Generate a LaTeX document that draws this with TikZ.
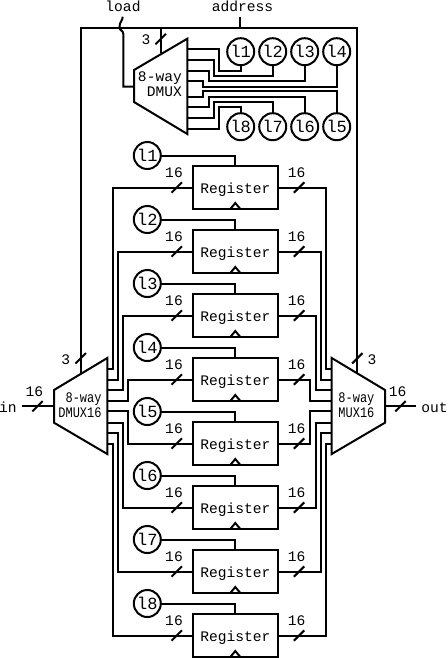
\documentclass[tikz,border=0pt]{standalone}
\usepackage{fontspec}
\setmainfont{Liberation Mono}
\usetikzlibrary{
    calc,
    positioning
}
\tikzset{
    wire/.style={line width=2pt, line join=miter},
    register/.style={draw, line width=2pt, minimum width=85pt, minimum height=43pt, inner sep=0pt, outer sep=0pt},
    regtext/.style={inner sep=0pt, text height=10pt, text depth=3pt, yshift=-2.3pt},
    loadbit/.style={draw, circle, line width=2pt, minimum size=27pt, inner sep=0pt, outer sep=0pt, fill=white, font=\fontsize{17pt}{18pt}\selectfont, text height=12pt, text depth=0pt},
    buslabel/.style={inner sep=0pt, text height=10pt, text depth=0pt},
    squeezed/.style={inner sep=0pt, align=#1, xscale=.82, transform shape, text height=10pt, text depth=0pt}
}
\newcommand{\busmark}[1]{\draw[wire] ([shift={(-5.2,5.2)}]#1) -- ([shift={(5.2,-5.2)}]#1);}
\newcommand{\clockmark}[1]{\draw[wire] ([xshift=-5pt]#1) -- ([yshift=6pt]#1) -- ([xshift=5pt]#1);}
\begin{document}
\begin{tikzpicture}[x=1pt, y=-1pt, font=\fontsize{14.6pt}{15pt}\selectfont]
    \useasboundingbox (0, 0) rectangle (447, 658);

    % top 8-way dmux
    \draw[wire] (134, 70) -- (187.3, 38.7) -- (187.3, 134) -- (134, 102) -- cycle;
    \node[inner sep=0pt, align=right, anchor=east, text height=10pt, text depth=0pt] (dmuxtext) at (182, 91.5) {8-way\\[0pt]DMUX};
    \coordinate (dmuxaddr) at (160.7, 53.3);
    \coordinate (dmuxload) at (134, 86.7);
    \coordinate (dout1) at (187.3, 49.3);
    \coordinate (dout2) at (187.3, 60);
    \coordinate (dout3) at (187.3, 70.7);
    \coordinate (dout4) at (187.3, 81.3);
    \coordinate (dout5) at (187.3, 96.7);
    \coordinate (dout6) at (187.3, 107.3);
    \coordinate (dout7) at (187.3, 118);
    \coordinate (dout8) at (187.3, 128.7);

    \node[loadbit] (t1) at (240.7, 51.7) {l1};
    \node[loadbit] (t2) at (272.7, 51.7) {l2};
    \node[loadbit] (t3) at (304.7, 51.7) {l3};
    \node[loadbit] (t4) at (336.7, 51.7) {l4};
    \node[loadbit] (t8) at (240.7, 126.7) {l8};
    \node[loadbit] (t7) at (272.7, 126.7) {l7};
    \node[loadbit] (t6) at (304.7, 126.7) {l6};
    \node[loadbit] (t5) at (336.7, 126.7) {l5};

    \draw[wire]
    (dout1) -- ++(32, 0) |- (240.7, 70.7) -- (t1.south)
    (dout2) -- ++(26.7, 0) |- (272.7, 76) -- (t2.south)
    (dout3) -- ++(21.4, 0) |- (304.7, 81.3) -- (t3.south)
    (dout4) -- ++(16, 0) |- (336.7, 86.7) -- (t4.south)
    (dout5) -- ++(16, 0) |- (336.7, 91.3) -- (t5.north)
    (dout6) -- ++(21.4, 0) |- (304.7, 96.7) -- (t6.north)
    (dout7) -- ++(26.7, 0) |- (272.7, 102) -- (t7.north)
    (dout8) -- ++(32, 0) |- (240.7, 107.3) -- (t8.north);

    % registers
    \node[register, label={[regtext]center:Register}] (r1) at (235.3, 187.5) {};
    \node[register, label={[regtext]center:Register}] (r2) at (235.3, 251.5) {};
    \node[register, label={[regtext]center:Register}] (r3) at (235.3, 315.5) {};
    \node[register, label={[regtext]center:Register}] (r4) at (235.3, 379.5) {};
    \node[register, label={[regtext]center:Register}] (r5) at (235.3, 443.5) {};
    \node[register, label={[regtext]center:Register}] (r6) at (235.3, 507.5) {};
    \node[register, label={[regtext]center:Register}] (r7) at (235.3, 571.5) {};
    \node[register, label={[regtext]center:Register}] (r8) at (235.3, 635.5) {};

    \clockmark{r1.south}
    \clockmark{r2.south}
    \clockmark{r3.south}
    \clockmark{r4.south}
    \clockmark{r5.south}
    \clockmark{r6.south}
    \clockmark{r7.south}
    \clockmark{r8.south}

    \node[loadbit] (c1) at (147.3, 155.5) {l1};
    \node[loadbit] (c2) at (147.3, 219.5) {l2};
    \node[loadbit] (c3) at (147.3, 283.5) {l3};
    \node[loadbit] (c4) at (147.3, 347.5) {l4};
    \node[loadbit] (c5) at (147.3, 411.5) {l5};
    \node[loadbit] (c6) at (147.3, 475.5) {l6};
    \node[loadbit] (c7) at (147.3, 539.5) {l7};
    \node[loadbit] (c8) at (147.3, 603.5) {l8};

    \draw[wire]
    (c1.east) -| (r1.north)
    (c2.east) -| (r2.north)
    (c3.east) -| (r3.north)
    (c4.east) -| (r4.north)
    (c5.east) -| (r5.north)
    (c6.east) -| (r6.north)
    (c7.east) -| (r7.north)
    (c8.east) -| (r8.north);

    % left 8-way dmux16
    \draw[wire] (54, 390) -- (107.3, 358) -- (107.3, 454) -- (54, 422.7) -- cycle;
    \node[squeezed=right, anchor=east] (dmuxwide) at (101.7, 412.5) {8-way\\[0pt]DMUX16};
    \coordinate (lin) at (54, 406.3);
    \coordinate (laddr) at (80.7, 374);
    \coordinate (lout1) at (107.3, 369);
    \coordinate (lout2) at (107.3, 379.5);
    \coordinate (lout3) at (107.3, 390.2);
    \coordinate (lout4) at (107.3, 400.7);
    \coordinate (lout5) at (107.3, 411.2);
    \coordinate (lout6) at (107.3, 422.5);
    \coordinate (lout7) at (107.3, 433);
    \coordinate (lout8) at (107.3, 443.5);

    % right 8-way mux16
    \draw[wire] (331.7, 358) -- (385, 390) -- (385, 422.7) -- (331.7, 454) -- cycle;
    \node[squeezed=left, anchor=west] (muxwide) at (338.3, 412.5) {8-way\\[0pt]MUX16};
    \coordinate (rout) at (385, 406.3);
    \coordinate (raddr) at (357.3, 374);
    \coordinate (rin1) at (331.7, 369);
    \coordinate (rin2) at (331.7, 379.5);
    \coordinate (rin3) at (331.7, 390.2);
    \coordinate (rin4) at (331.7, 400.7);
    \coordinate (rin5) at (331.7, 411.2);
    \coordinate (rin6) at (331.7, 422.5);
    \coordinate (rin7) at (331.7, 433);
    \coordinate (rin8) at (331.7, 443.5);

    \draw[wire]
    (lout1) -- ++(5.4, 0) |- (r1.west)
    (lout2) -- ++(10.6, 0) |- (r2.west)
    (lout3) -- ++(15.9, 0) |- (r3.west)
    (lout4) -- ++(21, 0) |- (r4.west)
    (lout5) -- ++(21, 0) |- (r5.west)
    (lout6) -- ++(15.9, 0) |- (r6.west)
    (lout7) -- ++(10.6, 0) |- (r7.west)
    (lout8) -- ++(5.4, 0) |- (r8.west)
    (r1.east) -| ([xshift=-5.7]rin1) -- (rin1)
    (r2.east) -| ([xshift=-11]rin2) -- (rin2)
    (r3.east) -| ([xshift=-16.2]rin3) -- (rin3)
    (r4.east) -| ([xshift=-21.7]rin4) -- (rin4)
    (r5.east) -| ([xshift=-21.7]rin5) -- (rin5)
    (r6.east) -| ([xshift=-16.2]rin6) -- (rin6)
    (r7.east) -| ([xshift=-11]rin7) -- (rin7)
    (r8.east) -| ([xshift=-5.7]rin8) -- (rin8);

    % bus widths
    \busmark{$(r1.west)+(-16, 0)$}
    \busmark{$(r2.west)+(-16, 0)$}
    \busmark{$(r3.west)+(-16, 0)$}
    \busmark{$(r4.west)+(-16, 0)$}
    \busmark{$(r5.west)+(-16, 0)$}
    \busmark{$(r6.west)+(-16, 0)$}
    \busmark{$(r7.west)+(-16, 0)$}
    \busmark{$(r8.west)+(-16, 0)$}
    \busmark{$(r1.east)+(21.3, 0)$}
    \busmark{$(r2.east)+(21.3, 0)$}
    \busmark{$(r3.east)+(21.3, 0)$}
    \busmark{$(r4.east)+(21.3, 0)$}
    \busmark{$(r5.east)+(21.3, 0)$}
    \busmark{$(r6.east)+(21.3, 0)$}
    \busmark{$(r7.east)+(21.3, 0)$}
    \busmark{$(r8.east)+(21.3, 0)$}

    \node[buslabel] (w1l) at (174, 172.5) {16};
    \node[buslabel] (w2l) at (174, 236.5) {16};
    \node[buslabel] (w3l) at (174, 300.5) {16};
    \node[buslabel] (w4l) at (174, 364.5) {16};
    \node[buslabel] (w5l) at (174, 428.5) {16};
    \node[buslabel] (w6l) at (174, 492.5) {16};
    \node[buslabel] (w7l) at (174, 556.5) {16};
    \node[buslabel] (w8l) at (174, 620.5) {16};
    \node[buslabel] (w1r) at (296.7, 172.5) {16};
    \node[buslabel] (w2r) at (296.7, 236.5) {16};
    \node[buslabel] (w3r) at (296.7, 300.5) {16};
    \node[buslabel] (w4r) at (296.7, 364.5) {16};
    \node[buslabel] (w5r) at (296.7, 428.5) {16};
    \node[buslabel] (w6r) at (296.7, 492.5) {16};
    \node[buslabel] (w7r) at (296.7, 556.5) {16};
    \node[buslabel] (w8r) at (296.7, 620.5) {16};

    % in, out, load, address
    \node[buslabel] (in) at (8, 407) {in};
    \node[buslabel] (out) at (434.5, 407) {out};
    \node[buslabel] (load) at (123, 7) {load};
    \node[buslabel] (address) at (242.5, 7) {address};
    \coordinate (inend) at (22, 406.3);
    \coordinate (outend) at (416, 406.3);
    \coordinate (loadend) at (122.7, 16.7);
    \coordinate (addrend) at (240, 16.7);
    \coordinate (addrbus) at (240, 27.7);

    \draw[wire] (inend) -- (lin);
    \draw[wire] (rout) -- (outend);
    \draw[wire] (addrend) -- (addrbus);
    \draw[wire] (laddr) |- (raddr |- addrbus) -- (raddr);
    \draw[wire] (dmuxaddr) -- (dmuxaddr |- addrbus);
    \draw[wire] (loadend) .. controls (122.7, 21) and (119.5, 21.5) .. (119.5, 27) .. controls (119.5, 31) and (123.3, 30) .. (123.3, 34) |- (dmuxload);

    \busmark{$(inend)+(15.5, 0)$}
    \busmark{$(rout)+(15.5, 0)$}
    \busmark{$(laddr)+(0, -15.7)$}
    \busmark{$(raddr)+(0, -15.7)$}
    \busmark{$(dmuxaddr)+(0, -14.2)$}

    \node[buslabel] (inw) at (34.5, 391) {16};
    \node[buslabel] (outw) at (397.7, 391) {16};
    \node[buslabel] (lw) at (65.7, 359.5) {3};
    \node[buslabel] (rw) at (372, 359.5) {3};
    \node[buslabel] (dw) at (146, 40) {3};
\end{tikzpicture}
\end{document}
